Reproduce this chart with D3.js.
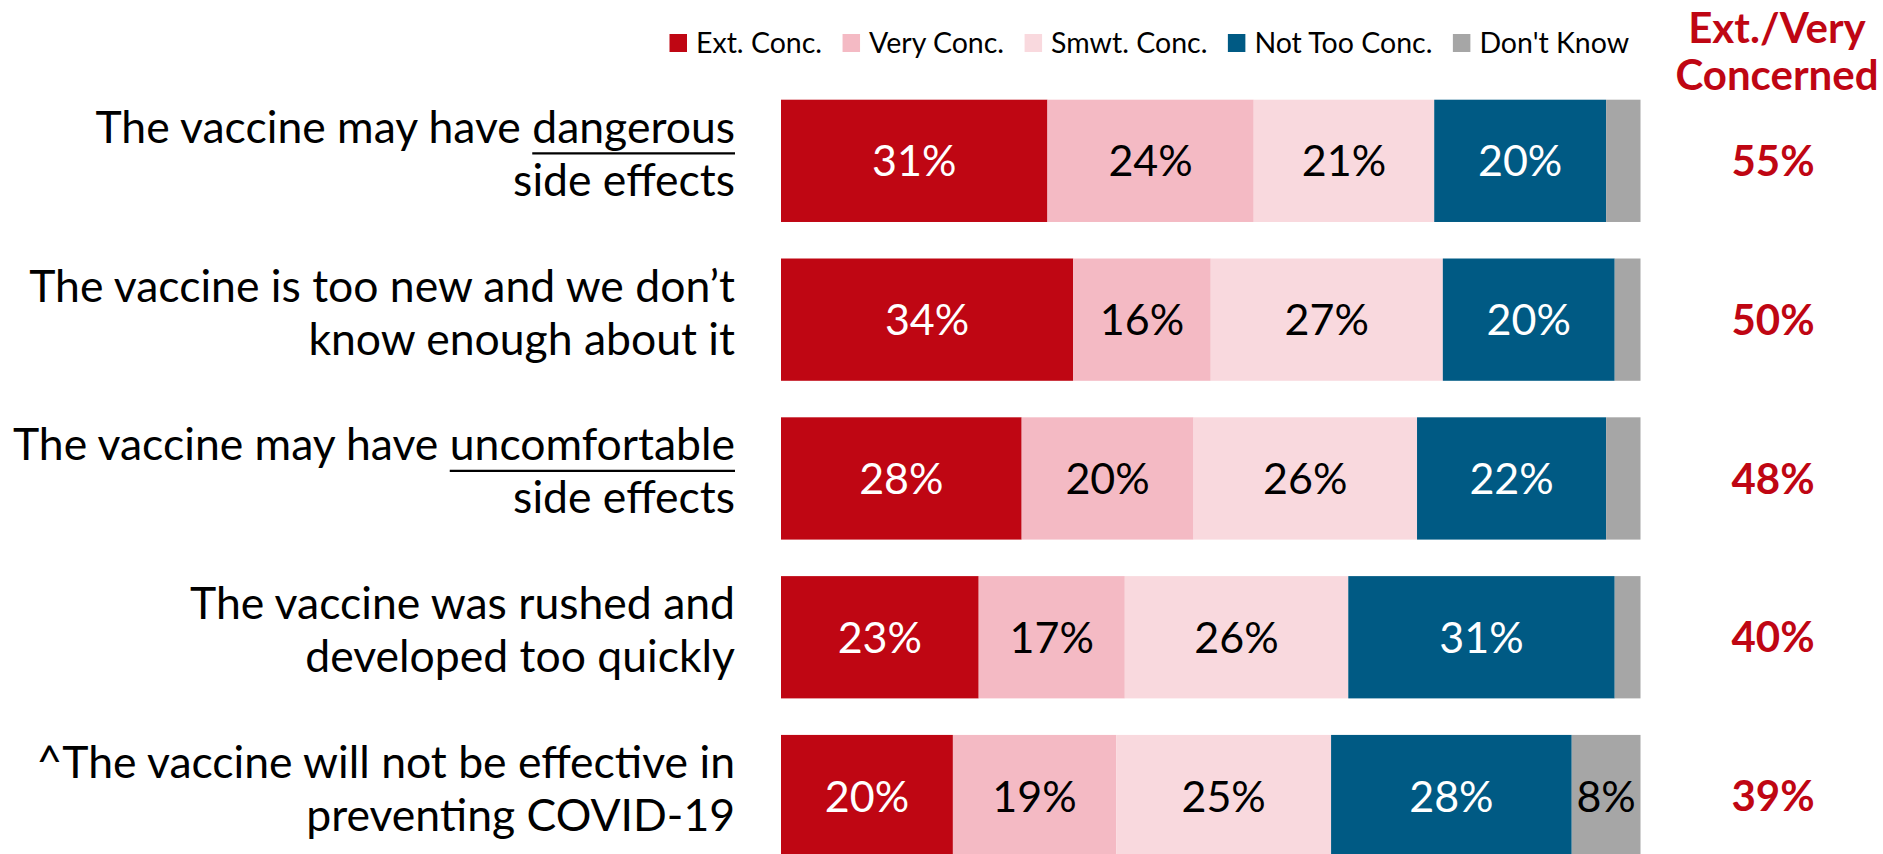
<!DOCTYPE html>
<html>
<head>
<meta charset="utf-8">
<script src="https://cdn.jsdelivr.net/npm/d3@7"></script>
<style>
  html, body { margin: 0; padding: 0; background: #fff; }
  svg { display: block; font-family: Lato, "Open Sans", sans-serif; }
</style>
</head>
<body>
<svg id="chart" width="1883" height="854"></svg>
<script>
// Concern about the vaccine, share of respondents per response
const categories = [
  [["The vaccine may have ", "dangerous"], ["side effects"]],
  [["The vaccine is too new and we don\u2019t"], ["know enough about it"]],
  [["The vaccine may have ", "uncomfortable"], ["side effects"]],
  [["The vaccine was rushed and"], ["developed too quickly"]],
  [["^The vaccine will not be effective in"], ["preventing COVID-19"]]
];
const extConc    = [31, 34, 28, 23, 20];
const veryConc   = [24, 16, 20, 17, 19];
const smwtConc   = [21, 27, 26, 26, 25];
const notTooConc = [20, 20, 22, 31, 28];
const dontKnow   = [4, 3, 4, 3, 8];
const extVeryTotal = [55, 50, 48, 40, 39];

const seriesNames = ["Ext. Conc.", "Very Conc.", "Smwt. Conc.", "Not Too Conc.", "Don't Know"];
const seriesKeys  = ["ext", "very", "smwt", "notToo", "dk"];
const seriesColors = ["#BF0613", "#F4BAC4", "#F9D9DE", "#005A84", "#A6A6A6"];
const labelColors  = ["#FFFFFF", "#000000", "#000000", "#FFFFFF", "#000000"];
const totalHeader = ["Ext./Very", "Concerned"];

const rows = categories.map((c, i) => ({
  idx: i, lines: c,
  ext: extConc[i], very: veryConc[i], smwt: smwtConc[i], notToo: notTooConc[i], dk: dontKnow[i],
  total: extVeryTotal[i]
}));

const svg = d3.select("#chart");

const x = d3.scaleLinear().domain([0, 100]).range([781, 1640.5]);
const y = d3.scaleBand().domain(d3.range(rows.length))
  .range([99.7, 857.2]).paddingInner(0.23).paddingOuter(0);

const stack = d3.stack().keys(seriesKeys);
const stacked = stack(rows);

// stacked bars
const layers = svg.append("g").selectAll("g")
  .data(stacked).join("g")
  .attr("fill", (d, i) => seriesColors[i]);

layers.selectAll("rect")
  .data(d => d)
  .join("rect")
  .attr("x", d => x(d[0]))
  .attr("y", (d, j) => y(j))
  .attr("width", d => x(d[1]) - x(d[0]))
  .attr("height", y.bandwidth());

// segment value labels (only where the segment is wide enough)
stacked.forEach((layer, si) => {
  svg.append("g").selectAll("text")
    .data(layer.filter(d => d[1] - d[0] >= 5))
    .join("text")
    .attr("x", d => (x(d[0]) + x(d[1])) / 2)
    .attr("y", d => y(d.data.idx) + y.bandwidth() / 2)
    .attr("dy", "0.36em")
    .attr("text-anchor", "middle")
    .attr("font-size", 43)
    .attr("fill", labelColors[si])
    .text(d => (d[1] - d[0]) + "%");
});

// category labels, right-aligned, two lines each
const labelRight = 735;
const catG = svg.append("g");
rows.forEach(r => {
  const cy = y(r.idx) + y.bandwidth() / 2;
  r.lines.forEach((parts, li) => {
    const baseline = cy + (li === 0 ? -18 : 35);
    const t = catG.append("text")
      .attr("x", labelRight).attr("y", baseline)
      .attr("text-anchor", "end")
      .attr("font-size", 44.5)
      .attr("fill", "#000");
    parts.forEach(p => t.append("tspan").text(p));
    if (parts.length > 1) {
      // underline the emphasised final word
      const word = t.selectAll("tspan").nodes()[1];
      const w = word.getComputedTextLength();
      catG.append("line")
        .attr("x1", labelRight - w).attr("x2", labelRight)
        .attr("y1", baseline + 10.5).attr("y2", baseline + 10.5)
        .attr("stroke", "#000").attr("stroke-width", 2.2);
    }
  });
});

// Ext./Very totals column
const totalX = 1773;
svg.append("g").selectAll("text")
  .data(rows).join("text")
  .attr("x", totalX)
  .attr("y", d => y(d.idx) + y.bandwidth() / 2)
  .attr("dy", "0.36em")
  .attr("text-anchor", "middle")
  .attr("font-size", 42)
  .attr("font-weight", 700)
  .attr("fill", "#BF0613")
  .text(d => d.total + "%");

svg.append("g").selectAll("text")
  .data(totalHeader).join("text")
  .attr("x", 1777)
  .attr("y", (d, i) => 43 + i * 47)
  .attr("text-anchor", "middle")
  .attr("font-size", 42)
  .attr("font-weight", 700)
  .attr("fill", "#BF0613")
  .text(d => d);

// legend, laid out left to right
const legend = svg.append("g");
let lx = 669.5;
const sq = 17.5;
seriesNames.forEach((name, i) => {
  legend.append("rect")
    .attr("x", lx).attr("y", 34)
    .attr("width", sq).attr("height", sq + 0.5)
    .attr("fill", seriesColors[i]);
  const t = legend.append("text")
    .attr("x", lx + sq + 9).attr("y", 53)
    .attr("font-size", 28.5)
    .attr("fill", "#000")
    .text(name);
  lx = lx + sq + 9 + t.node().getComputedTextLength() + 20.5;
});
</script>
</body>
</html>
